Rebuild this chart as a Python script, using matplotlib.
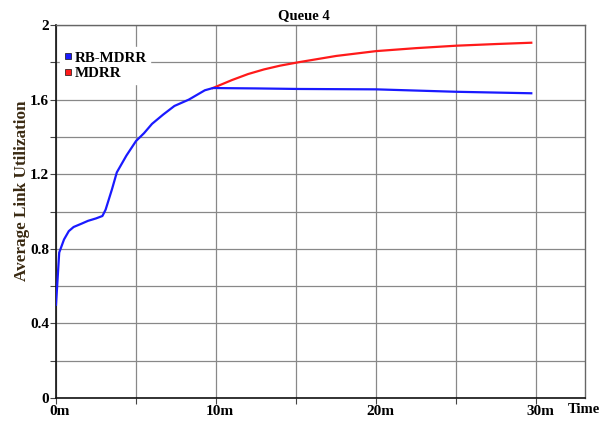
import numpy as np
import matplotlib.pyplot as plt
import matplotlib.transforms as mtransforms
from matplotlib.ticker import MultipleLocator, FuncFormatter

# time in minutes
t_rb = [0, 0.2, 0.5, 0.8, 1.1, 1.6, 2.0, 2.5, 2.9, 3.1, 3.5, 3.8, 4.4, 5.0, 5.5, 6.0, 6.7,
        7.4, 8.3, 9.0, 9.3, 9.8, 12.5, 15.2, 20.0, 25.0, 29.7]
u_rb = [0.5, 0.78, 0.85, 0.895, 0.917, 0.935, 0.95, 0.963, 0.976, 1.01, 1.12, 1.21, 1.30,
        1.378, 1.42, 1.47, 1.52, 1.566, 1.60, 1.635, 1.65, 1.662, 1.66, 1.657, 1.655, 1.642, 1.634]

t_md = [9.8, 11.0, 12.0, 13.0, 14.0, 15.2, 17.5, 20.0, 22.5, 25.0, 27.5, 29.7]
u_md = [1.662, 1.705, 1.737, 1.762, 1.782, 1.801, 1.834, 1.860, 1.876, 1.889, 1.898, 1.905]

plt.rcParams['font.family'] = ['Liberation Serif', 'DejaVu Serif']
plt.rcParams['font.weight'] = 'bold'

fig = plt.figure(figsize=(6.01, 4.21), dpi=100)
ax = fig.add_axes([0.0932, 0.0546, 0.880, 0.886])

ax.plot(t_md, u_md, color='#ff1a1a', lw=1.6, zorder=3)
ax.plot(t_rb, u_rb, color='#1a1aff', lw=1.6, zorder=4)

ax.set_xlim(0, 33.05)
ax.set_ylim(0, 2)
ax.xaxis.set_major_locator(MultipleLocator(10))
ax.xaxis.set_minor_locator(MultipleLocator(5))
ax.yaxis.set_major_locator(MultipleLocator(0.4))
ax.yaxis.set_minor_locator(MultipleLocator(0.2))
ax.xaxis.set_major_formatter(FuncFormatter(lambda v, p: '%dm' % v))
ax.yaxis.set_major_formatter(FuncFormatter(lambda v, p: '%g' % round(v, 1)))

ax.grid(which='both', color='#888888', lw=0.9)
ax.set_axisbelow(True)
ax.tick_params(which='both', direction='out', length=4, width=0.8, color='#444444',
               labelsize=11, pad=1)

# x labels sit a little right of their ticks in the original
shift = mtransforms.ScaledTranslation(4 / 100, 0, fig.dpi_scale_trans)
for lab in ax.get_xticklabels():
    lab.set_transform(lab.get_transform() + shift)

for s in ['top', 'right']:
    ax.spines[s].set_color('#666666')
    ax.spines[s].set_linewidth(1.0)
for s in ['left', 'bottom']:
    ax.spines[s].set_color('#111111')
    ax.spines[s].set_linewidth(1.2)

ax.set_title('Queue 4', fontsize=10.5, fontweight='bold', pad=4, x=0.468)
ax.set_ylabel('Average Link Utilization', fontsize=12.3, fontweight='bold',
              color='#3a2a12')
ax.yaxis.set_label_coords(-0.05, 0.555)
fig.text(0.944, 0.0546 - 0.012, 'Time', fontsize=10.5, fontweight='bold',
         ha='left', va='top')

leg = ax.legend(handles=[plt.Line2D([], [], ls='', marker='s', ms=5, color='#1a1aff',
                                    mec='#111111', mew=0.5),
                         plt.Line2D([], [], ls='', marker='s', ms=5, color='#ff1a1a',
                                    mec='#111111', mew=0.5)],
                labels=['RB-MDRR', 'MDRR'], loc='upper left', bbox_to_anchor=(0.008, 0.94),
                frameon=True, fontsize=10.8, handlelength=0.5, handletextpad=0.2,
                labelspacing=0.12, borderpad=0.25, borderaxespad=0)
leg.get_frame().set_edgecolor('white')
leg.get_frame().set_facecolor('white')
leg.get_frame().set_alpha(1)
leg.get_frame().set_boxstyle('square', pad=0)

fig.savefig('out.png', dpi=100)
